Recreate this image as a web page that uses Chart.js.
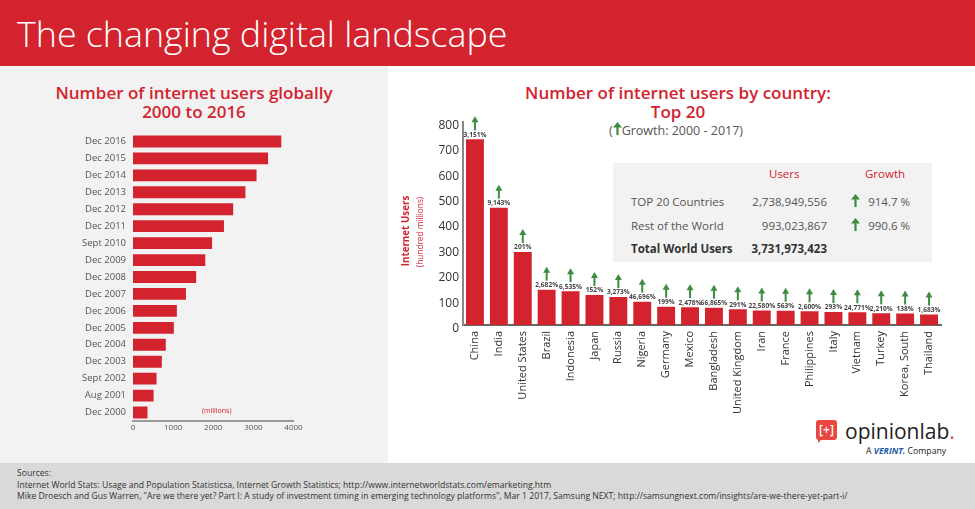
<!DOCTYPE html>
<html>
<head>
<meta charset="utf-8">
<script src="https://cdn.jsdelivr.net/npm/chart.js@4.4.1/dist/chart.umd.min.js"></script>
<style>
  body { margin: 0; width: 975px; height: 509px; position: relative; overflow: hidden; background: #fff; font-family: "Open Sans", sans-serif; }
  .abs { position: absolute; }
  #header { left: 0; top: 0; width: 975px; height: 66px; background: #d2232f; }
  #header span { position: absolute; left: 17px; top: 9px; color: #fff; font-size: 35.8px; font-weight: 300; line-height: 48px; white-space: nowrap; }
  #leftPanel { left: 0; top: 66px; width: 388px; height: 397px; background: #f2f2f2; }
  .title { color: #d2232f; font-size: 17px; font-weight: 600; text-align: center; line-height: 19px; }
  #footer { left: 0; top: 463px; width: 975px; height: 46px; background: #d9d9d9; color: #333; font-size: 8.6px; line-height: 11.5px; }
  #footer div { padding-left: 17px; white-space: nowrap; }
  #tableBox { left: 613px; top: 163px; width: 319px; height: 99px; background: #f2f2f2; color: #555; font-size: 11.5px; }
  #tableBox span { position: absolute; white-space: nowrap; line-height: 14px; }
  .red { color: #d2232f; }
  svg.up { display: inline-block; }
</style>
</head>
<body>
<div id="header" class="abs"><span>The changing digital landscape</span></div>
<div id="leftPanel" class="abs"></div>

<div class="abs title" style="left:0; top:83px; width:388px;">Number of internet users globally<br>2000 to 2016</div>
<canvas id="globalChart" class="abs" style="left:8px; top:120px;" width="380" height="330"></canvas>
<div class="abs red" style="left:202px; top:406px; font-size:7px; line-height:9px;">(millions)</div>

<div class="abs title" style="left:478px; top:83px; width:400px;">Number of internet users by country:<br>Top 20</div>
<div class="abs" style="left:576px; top:122px; width:200px; text-align:center; color:#555; font-size:12.5px; line-height:16px;">(<svg class="up" width="9" height="13" viewBox="0 0 9 13"><path d="M4.5 0 L9 5.5 L5.6 5.5 L5.6 13 L3.4 13 L3.4 5.5 L0 5.5 Z" fill="#3d8c3f"/></svg>Growth: 2000 - 2017)</div>

<canvas id="countryChart" class="abs" style="left:388px; top:110px;" width="587" height="305"></canvas>
<div class="abs red" style="left:366px; top:225px; width:80px; text-align:center; transform:rotate(-90deg); font-size:9.8px; font-weight:700; line-height:12px;">Internet Users</div>
<div class="abs red" style="left:380px; top:227px; width:80px; text-align:center; transform:rotate(-90deg); font-size:8.3px; line-height:10px; white-space:nowrap;">(hundred millions)</div>

<div id="tableBox" class="abs">
  <span class="red" style="left:156px; top:4px;">Users</span>
  <span class="red" style="left:252px; top:4px;">Growth</span>
  <span style="left:18px; top:32px;">TOP 20 Countries</span>
  <span style="right:105px; top:32px;">2,738,949,556</span>
  <span style="left:238px; top:31px;"><svg width="9" height="13" viewBox="0 0 9 13"><path d="M4.5 0 L9 5.5 L5.6 5.5 L5.6 13 L3.4 13 L3.4 5.5 L0 5.5 Z" fill="#3d8c3f"/></svg></span>
  <span style="right:22px; top:32px;">914.7 %</span>
  <span style="left:18px; top:56px;">Rest of the World</span>
  <span style="right:105px; top:56px;">993,023,867</span>
  <span style="left:238px; top:55px;"><svg width="9" height="13" viewBox="0 0 9 13"><path d="M4.5 0 L9 5.5 L5.6 5.5 L5.6 13 L3.4 13 L3.4 5.5 L0 5.5 Z" fill="#3d8c3f"/></svg></span>
  <span style="right:22px; top:56px;">990.6 %</span>
  <span style="left:18px; top:79px; font-weight:700; color:#333;">Total World Users</span>
  <span style="right:105px; top:79px; font-weight:700; color:#333;">3,731,973,423</span>
</div>

<!-- logo -->
<div class="abs" style="left:816px; top:420px; width:21px; height:20px; background:#e8473f; border-radius:3px; color:#fff; font-size:12px; line-height:19px; text-align:center; font-weight:600;">[+]</div>
<div class="abs" style="left:818px; top:438px; width:0; height:0; border-left:5px solid #e8473f; border-bottom:5px solid transparent;"></div>
<div class="abs" style="left:845px; top:419px; font-size:21px; line-height:24px; color:#222;">opinionlab<span style="color:#e8473f">.</span></div>
<div class="abs" style="left:866px; top:446px; font-size:8.7px; line-height:11px; color:#222; white-space:nowrap;">A <b style="color:#1a5aa8; font-style:italic;">VERINT.</b> Company</div>

<div id="footer" class="abs">
  <div style="margin-top:5px;">Sources:</div>
  <div>Internet World Stats: Usage and Population Statisticsa, Internet Growth Statistics; http://www.internetworldstats.com/emarketing.htm</div>
  <div>Mike Droesch and Gus Warren, "Are we there yet? Part I: A study of investment timing in emerging technology platforms", Mar 1 2017, Samsung NEXT; http://samsungnext.com/insights/are-we-there-yet-part-i/</div>
</div>

<script>
var red = '#d2232f';
var arrowGreen = '#3d8c3f';

// left chart: internet users worldwide (millions)
var periods = ['Dec 2016', 'Dec 2015', 'Dec 2014', 'Dec 2013', 'Dec 2012', 'Dec 2011', 'Sept 2010', 'Dec 2009',
  'Dec 2008', 'Dec 2007', 'Dec 2006', 'Dec 2005', 'Dec 2004', 'Dec 2003', 'Sept 2002', 'Aug 2001', 'Dec 2000'];
var usersMillions = [3696, 3366, 3079, 2802, 2497, 2267, 1971, 1802, 1574, 1319, 1093, 1018, 817, 719, 587, 513, 361];
var globalTicks = [0, 1000, 2000, 3000, 4000];

// right chart: top 20 countries (millions)
var countries = ['China', 'India', 'United States', 'Brazil', 'Indonesia', 'Japan', 'Russia', 'Nigeria', 'Germany', 'Mexico',
  'Bangladesh', 'United Kingdom', 'Iran', 'France', 'Philippines', 'Italy', 'Vietnam', 'Turkey', 'Korea, South', 'Thailand'];
var countryUsers = [731, 462, 287, 139, 133, 118, 110, 92, 72, 70, 68, 62, 57, 56, 54, 51, 50, 46, 45, 41];
var growth = ['3,151%', '9,143%', '201%', '2,682%', '6,535%', '152%', '3,273%', '46,696%', '199%', '2,478%',
  '66,865%', '291%', '22,580%', '563%', '2,600%', '293%', '24,771%', '2,210%', '138%', '1,683%'];

new Chart(document.getElementById('globalChart'), {
  type: 'bar',
  data: {
    labels: periods,
    datasets: [{ data: usersMillions, backgroundColor: red, barPercentage: 0.7, categoryPercentage: 1 }]
  },
  options: {
    indexAxis: 'y',
    responsive: false,
    animation: false,
    layout: { padding: { top: 13, right: 94.5 } },
    plugins: { legend: { display: false }, tooltip: { enabled: false } },
    scales: {
      x: {
        min: 0, max: 4000,
        afterBuildTicks: function(s) { s.ticks = globalTicks.map(function(v) { return { value: v }; }); },
        ticks: { color: '#555', font: { family: 'Open Sans', size: 8 }, padding: 2, callback: function(v) { return String(v); } },
        grid: { display: false, drawTicks: false },
        border: { color: '#9a9a9a', width: 2 },
        afterFit: function(s) { s.height = 29; }
      },
      y: {
        ticks: { color: '#555', font: { family: 'Open Sans', size: 9.5 }, padding: 7 },
        grid: { display: false, drawTicks: false },
        border: { display: false },
        afterFit: function(s) { s.width = 125; }
      }
    }
  }
});

var growthMarks = {
  id: 'growthMarks',
  afterDatasetsDraw: function(chart) {
    var ctx = chart.ctx;
    var meta = chart.getDatasetMeta(0);
    ctx.save();
    meta.data.forEach(function(bar, i) {
      var x = bar.x, top = bar.y;
      ctx.fillStyle = '#444';
      ctx.font = 'bold 6.6px "Open Sans"';
      ctx.textAlign = 'center';
      ctx.textBaseline = 'middle';
      ctx.fillText(growth[i], x, top - 4.5);
      ctx.fillStyle = arrowGreen;
      ctx.fillRect(x - 1, top - 18, 2, 9);
      ctx.beginPath();
      ctx.moveTo(x, top - 23);
      ctx.lineTo(x - 3.5, top - 17);
      ctx.lineTo(x + 3.5, top - 17);
      ctx.closePath();
      ctx.fill();
    });
    ctx.restore();
  }
};

new Chart(document.getElementById('countryChart'), {
  type: 'bar',
  data: {
    labels: countries,
    datasets: [{ data: countryUsers, backgroundColor: red, barPercentage: 0.75, categoryPercentage: 1 }]
  },
  options: {
    responsive: false,
    animation: false,
    layout: { padding: { top: 11.8, right: 34 } },
    plugins: { legend: { display: false }, tooltip: { enabled: false } },
    scales: {
      x: {
        ticks: { color: '#333', font: { family: 'Open Sans', size: 11 }, minRotation: 90, maxRotation: 90, autoSkip: false, padding: 6 },
        grid: { display: false, drawTicks: false },
        border: { color: '#666', width: 2 },
        afterFit: function(s) { s.height = 90; }
      },
      y: {
        min: 0, max: 800,
        ticks: { stepSize: 100, color: '#333', font: { family: 'Open Sans', size: 12 }, padding: 4, labelOffset: 3.5 },
        grid: { display: false, drawTicks: false },
        border: { color: '#888', width: 2 },
        afterFit: function(s) { s.width = 75; }
      }
    }
  },
  plugins: [growthMarks]
});
</script>
</body>
</html>
